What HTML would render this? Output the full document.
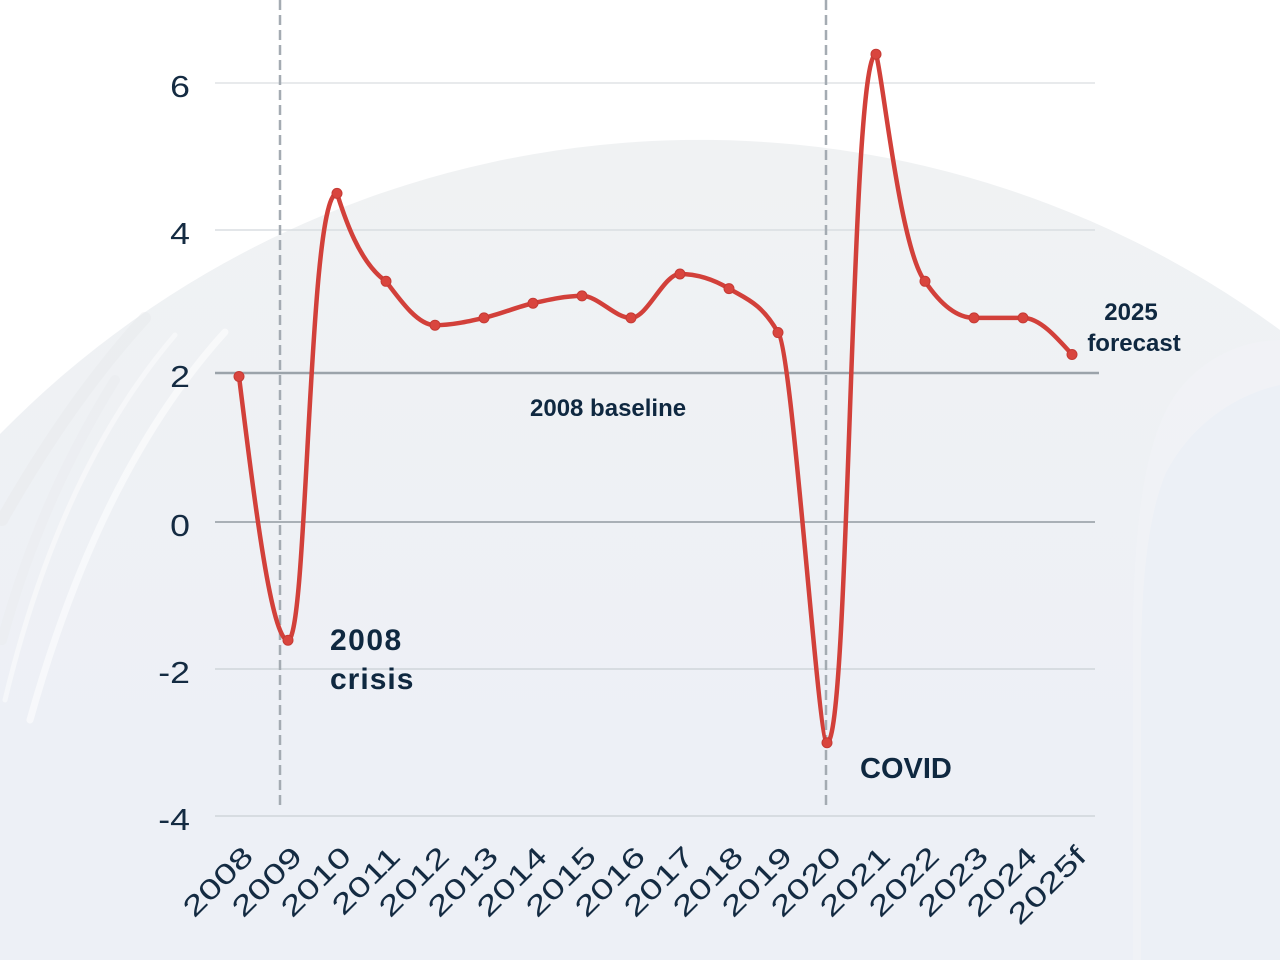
<!DOCTYPE html>
<html>
<head>
<meta charset="utf-8">
<style>
  html, body { margin: 0; padding: 0; background: #ffffff; width: 1280px; height: 960px; overflow: hidden; }
  svg { display: block; }
  .yl { font-family: "Liberation Sans", sans-serif; font-size: 31px; fill: #142b42; }
  .xl { font-family: "Liberation Sans", sans-serif; font-size: 28px; fill: #142b42; }
  .ann { font-family: "Liberation Sans", sans-serif; font-weight: bold; fill: #0f2840; }
</style>
</head>
<body>
<svg width="1280" height="960" viewBox="0 0 1280 960" xmlns="http://www.w3.org/2000/svg">
  <defs>
    <linearGradient id="bg" x1="0" y1="140" x2="0" y2="760" gradientUnits="userSpaceOnUse">
      <stop offset="0" stop-color="#f0f2f3"/>
      <stop offset="1" stop-color="#edf0f6"/>
    </linearGradient>
  </defs>

  <!-- background -->
  <rect x="0" y="0" width="1280" height="960" fill="#ffffff"/>
  <path d="M0,960 L0,434 A980,980 0 0 1 1280,330 L1280,960 Z" fill="url(#bg)"/>
  <!-- subtle right-side shape -->
  <path d="M1280,340 C1240,340 1200,360 1175,395 C1145,440 1135,520 1133,620 L1133,960 L1280,960 Z" fill="#f2f4f7" opacity="0.6"/>
  <path d="M1280,385 C1235,395 1190,425 1165,475 C1145,525 1140,600 1141,700 L1141,960 L1280,960 Z" fill="#ecf0f6"/>
  <!-- left brush swooshes (subtle) -->
  <path d="M145,318 Q70,400 2,520" fill="none" stroke="#e6e9eb" stroke-width="12" opacity="0.45" stroke-linecap="round"/>
  <path d="M225,332 Q100,470 30,720" fill="none" stroke="#ffffff" stroke-width="7" opacity="0.55" stroke-linecap="round"/>
  <path d="M175,335 Q60,470 5,700" fill="none" stroke="#ffffff" stroke-width="5" opacity="0.45" stroke-linecap="round"/>
  <path d="M115,380 Q40,500 2,640" fill="none" stroke="#e8ebee" stroke-width="10" opacity="0.4" stroke-linecap="round"/>

  <!-- gridlines -->
  <line x1="215" y1="83" x2="1095" y2="83" stroke="#e0e3e6" stroke-width="1.5"/>
  <line x1="215" y1="230" x2="1095" y2="230" stroke="#dadee2" stroke-width="1.5"/>
  <line x1="215" y1="373" x2="1099" y2="373" stroke="#9ba3aa" stroke-width="2.5"/>
  <line x1="215" y1="522" x2="1095" y2="522" stroke="#a9b0b6" stroke-width="2"/>
  <line x1="215" y1="669" x2="1095" y2="669" stroke="#d0d5da" stroke-width="1.5"/>
  <line x1="215" y1="816" x2="1095" y2="816" stroke="#d0d5da" stroke-width="1.5"/>

  <!-- dashed event lines -->
  <line x1="280" y1="0" x2="280" y2="808" stroke="#a4abb2" stroke-width="2.5" stroke-dasharray="10 5"/>
  <line x1="826" y1="0" x2="826" y2="808" stroke="#a4abb2" stroke-width="2.5" stroke-dasharray="10 5"/>

  <!-- y labels -->
  <text class="yl" text-anchor="end" transform="translate(190,97) scale(1.15,1)">6</text>
  <text class="yl" text-anchor="end" transform="translate(190,244) scale(1.15,1)">4</text>
  <text class="yl" text-anchor="end" transform="translate(190,387) scale(1.15,1)">2</text>
  <text class="yl" text-anchor="end" transform="translate(190,536) scale(1.15,1)">0</text>
  <text class="yl" text-anchor="end" transform="translate(190,683) scale(1.15,1)">-2</text>
  <text class="yl" text-anchor="end" transform="translate(190,830) scale(1.15,1)">-4</text>

  <!-- x labels -->
  <g class="xl" text-anchor="end">
    <text transform="translate(255,858) rotate(-45) scale(1.38,1)">2008</text>
    <text transform="translate(304,858) rotate(-45) scale(1.38,1)">2009</text>
    <text transform="translate(353,858) rotate(-45) scale(1.38,1)">2010</text>
    <text transform="translate(402,858) rotate(-45) scale(1.38,1)">2011</text>
    <text transform="translate(451,858) rotate(-45) scale(1.38,1)">2012</text>
    <text transform="translate(500,858) rotate(-45) scale(1.38,1)">2013</text>
    <text transform="translate(549,858) rotate(-45) scale(1.38,1)">2014</text>
    <text transform="translate(598,858) rotate(-45) scale(1.38,1)">2015</text>
    <text transform="translate(647,858) rotate(-45) scale(1.38,1)">2016</text>
    <text transform="translate(696,858) rotate(-45) scale(1.38,1)">2017</text>
    <text transform="translate(745,858) rotate(-45) scale(1.38,1)">2018</text>
    <text transform="translate(794,858) rotate(-45) scale(1.38,1)">2019</text>
    <text transform="translate(843,858) rotate(-45) scale(1.38,1)">2020</text>
    <text transform="translate(892,858) rotate(-45) scale(1.38,1)">2021</text>
    <text transform="translate(941,858) rotate(-45) scale(1.38,1)">2022</text>
    <text transform="translate(990,858) rotate(-45) scale(1.38,1)">2023</text>
    <text transform="translate(1039,858) rotate(-45) scale(1.38,1)">2024</text>
    <text transform="translate(1088,858) rotate(-45) scale(1.38,1)">2025f</text>
  </g>

  <!-- data line -->
  <path d="M239,376.5
           C255.33,508.35 271.67,640.2 288,640.2
           C308,640.2 308,193.4 337,193.4
           C343,212 358,262 386,281.3
           C402.33,303.27 418.67,325.2 435,325.2
           C451.33,325.2 467.67,321.56 484,317.9
           C500.33,314.24 516.67,306.92 533,303.25
           C549.33,299.58 565.67,295.9 582,295.9
           C598.33,295.9 614.67,317.9 631,317.9
           C647.33,317.9 663.67,274 680,274
           C696.33,274 712.67,278.87 729,288.6
           C745.33,298.33 761.67,303.25 778,332.55
           C792,345 818,742.75 827,742.75
           C850,742.75 850,54.2 876,54.2
           C882,70 900,250 925,281.3
           C941.33,305.7 957.67,317.9 974,317.9
           C990.33,317.9 1006.67,317.9 1023,317.9
           C1039.33,317.9 1055.67,336.2 1072,354.5"
        fill="none" stroke="#d2403a" stroke-width="4.5" stroke-linecap="round" stroke-linejoin="round"/>

  <!-- markers -->
  <g fill="#d9453e" stroke="#c53a34" stroke-width="1">
    <circle cx="239" cy="376.5" r="5"/>
    <circle cx="288" cy="640.2" r="5"/>
    <circle cx="337" cy="193.4" r="5"/>
    <circle cx="386" cy="281.3" r="5"/>
    <circle cx="435" cy="325.2" r="5"/>
    <circle cx="484" cy="317.9" r="5"/>
    <circle cx="533" cy="303.25" r="5"/>
    <circle cx="582" cy="295.9" r="5"/>
    <circle cx="631" cy="317.9" r="5"/>
    <circle cx="680" cy="274" r="5"/>
    <circle cx="729" cy="288.6" r="5"/>
    <circle cx="778" cy="332.55" r="5"/>
    <circle cx="827" cy="742.75" r="5"/>
    <circle cx="876" cy="54.2" r="5"/>
    <circle cx="925" cy="281.3" r="5"/>
    <circle cx="974" cy="317.9" r="5"/>
    <circle cx="1023" cy="317.9" r="5"/>
    <circle cx="1072" cy="354.5" r="5"/>
  </g>

  <!-- annotations -->
  <text class="ann" font-size="24" x="530" y="416">2008 baseline</text>
  <text class="ann" font-size="30" x="330" y="650" letter-spacing="1.5">2008</text>
  <text class="ann" font-size="30" x="330" y="689" letter-spacing="1">crisis</text>
  <text class="ann" font-size="29" x="860" y="778">COVID</text>
  <text class="ann" font-size="24" x="1131" y="320" text-anchor="middle">2025</text>
  <text class="ann" font-size="24" x="1134" y="351" text-anchor="middle">forecast</text>
</svg>
</body>
</html>
